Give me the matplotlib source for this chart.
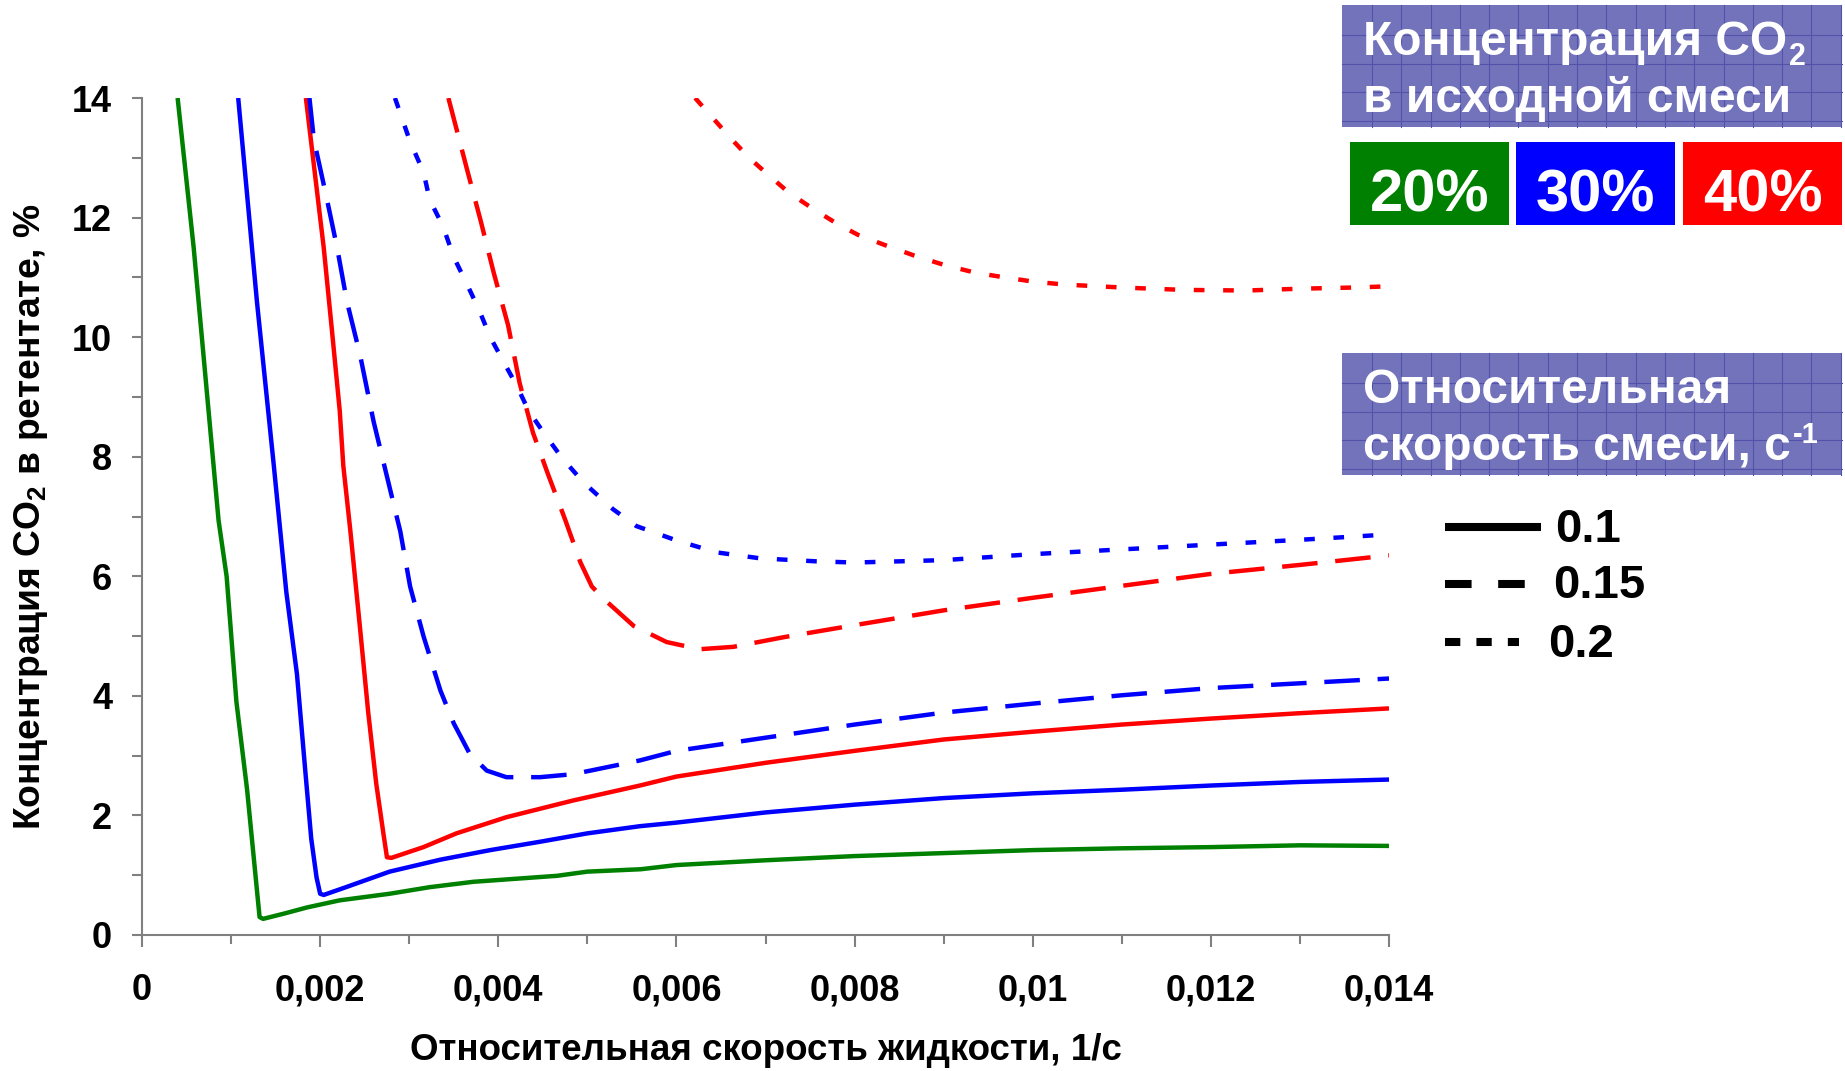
import numpy as np
import matplotlib
matplotlib.use("Agg")
import matplotlib.pyplot as plt
from matplotlib.patches import Rectangle
from matplotlib.lines import Line2D

plt.rcParams['font.family'] = ['Liberation Sans', 'DejaVu Sans']
plt.rcParams['font.weight'] = 'bold'
plt.rcParams['mathtext.fontset'] = 'custom'
plt.rcParams['mathtext.rm'] = 'Liberation Sans:bold'
plt.rcParams['mathtext.bf'] = 'Liberation Sans:bold'
plt.rcParams['mathtext.it'] = 'Liberation Sans:bold'
plt.rcParams['mathtext.default'] = 'rm'

# ---------------- data ----------------
# 20% CO2, gas rate 0.1
x_20_01 = [0.00040, 0.00058, 0.00073, 0.00086, 0.00095, 0.00106, 0.00118, 0.00127, 0.00132,
           0.00136, 0.00160, 0.00185, 0.00222, 0.00278, 0.00323, 0.00372, 0.00466, 0.0050,
           0.0056, 0.0060, 0.0070, 0.0080, 0.0090, 0.0100, 0.0110, 0.0120, 0.0130, 0.0140]
y_20_01 = [14.0, 11.5, 9.05, 6.93, 6.0, 3.9, 2.43, 1.06, 0.30,
           0.27, 0.36, 0.46, 0.58, 0.69, 0.80, 0.89, 0.99, 1.06,
           1.10, 1.17, 1.25, 1.32, 1.37, 1.42, 1.45, 1.47, 1.50, 1.49]

# 30% CO2, gas rate 0.1
x_30_01 = [0.00108, 0.00129, 0.00148, 0.00162, 0.00174, 0.00183, 0.00190, 0.00196, 0.00200,
           0.00204, 0.00229, 0.00278, 0.00335, 0.00391, 0.00447, 0.0050, 0.00559, 0.0060,
           0.0070, 0.0080, 0.0090, 0.0100, 0.0110, 0.0120, 0.0130, 0.0140]
y_30_01 = [14.0, 10.6, 7.85, 5.74, 4.36, 2.8, 1.61, 0.96, 0.69,
           0.67, 0.80, 1.06, 1.26, 1.42, 1.56, 1.70, 1.82, 1.88,
           2.05, 2.18, 2.29, 2.37, 2.43, 2.50, 2.56, 2.60]

# 40% CO2, gas rate 0.1
x_40_01 = [0.00184, 0.00204, 0.00213, 0.00222, 0.00226, 0.00234, 0.00245, 0.00254, 0.00263,
           0.00271, 0.00275, 0.00280, 0.00316, 0.00353, 0.00409, 0.00484, 0.00559, 0.0060,
           0.0070, 0.0080, 0.0090, 0.0100, 0.0110, 0.0120, 0.0130, 0.0140]
y_40_01 = [14.0, 11.5, 10.15, 8.77, 7.85, 6.75, 5.1, 3.72, 2.53,
           1.7, 1.30, 1.29, 1.47, 1.70, 1.97, 2.25, 2.50, 2.65,
           2.88, 3.08, 3.27, 3.40, 3.52, 3.62, 3.71, 3.79]

# 30% CO2, gas rate 0.15
x_30_015 = [0.00188, 0.00193, 0.00207, 0.00219, 0.00230, 0.00245, 0.00260, 0.00275, 0.00290,
            0.00301, 0.00316, 0.00335, 0.00350, 0.00368, 0.00387, 0.00409, 0.00447, 0.00484,
            0.00559, 0.0060, 0.0070, 0.0080, 0.0090, 0.0100, 0.0110, 0.0120, 0.0130, 0.0140]
y_30_015 = [14.0, 13.3, 12.35, 11.5, 10.6, 9.69, 8.59, 7.67, 6.75,
            5.83, 5.0, 4.09, 3.54, 3.03, 2.75, 2.64, 2.64, 2.69,
            2.92, 3.08, 3.30, 3.52, 3.72, 3.87, 4.01, 4.13, 4.21, 4.29]

# 40% CO2, gas rate 0.15
x_40_015 = [0.00344, 0.00365, 0.00380, 0.00395, 0.00411, 0.00424, 0.00439, 0.00456, 0.00475,
            0.00492, 0.00505, 0.00520, 0.00552, 0.00589, 0.00626, 0.00664, 0.0072, 0.00795,
            0.0090, 0.0100, 0.0110, 0.0120, 0.0130, 0.0140]
y_40_015 = [14.0, 12.8, 11.96, 11.07, 10.2, 9.23, 8.4, 7.7, 6.95,
            6.24, 5.83, 5.6, 5.17, 4.9, 4.78, 4.82, 4.98, 5.17,
            5.43, 5.64, 5.84, 6.04, 6.19, 6.35]

# 30% CO2, gas rate 0.2
x_30_02 = [0.00284, 0.00301, 0.00316, 0.00323, 0.00338, 0.00350, 0.00365, 0.00378, 0.00391,
           0.00404, 0.00421, 0.00434, 0.00451, 0.00471, 0.00495, 0.00529, 0.00555, 0.00600,
           0.00645, 0.00694, 0.00757, 0.0080, 0.0090, 0.0100, 0.0110, 0.0120, 0.0130, 0.0140]
y_30_02 = [14.0, 13.27, 12.76, 12.3, 11.85, 11.34, 10.88, 10.47, 10.0,
           9.64, 9.18, 8.77, 8.4, 7.99, 7.58, 7.12, 6.84, 6.6,
           6.4, 6.3, 6.25, 6.23, 6.27, 6.37, 6.45, 6.53, 6.61, 6.70]

# 40% CO2, gas rate 0.2
x_40_02 = [0.00621, 0.0064, 0.00662, 0.00683, 0.00705, 0.00726, 0.00753, 0.0078, 0.00804,
           0.00834, 0.00866, 0.0090, 0.00935, 0.00968, 0.0100, 0.01035, 0.0110, 0.0117,
           0.0124, 0.0130, 0.0136, 0.0140]
y_40_02 = [14.0, 13.68, 13.31, 12.98, 12.69, 12.42, 12.15, 11.9, 11.71,
           11.54, 11.37, 11.21, 11.08, 11.0, 10.93, 10.88, 10.83, 10.79,
           10.78, 10.81, 10.83, 10.85]

x_ticks = [0, 0.002, 0.004, 0.006, 0.008, 0.010, 0.012, 0.014]
x_tick_labels = ['0', '0,002', '0,004', '0,006', '0,008', '0,01', '0,012', '0,014']
y_ticks = [0, 2, 4, 6, 8, 10, 12, 14]
y_tick_labels = ['0', '2', '4', '6', '8', '10', '12', '14']

conc_labels = ['20%', '30%', '40%']
rate_labels = ['0.1', '0.15', '0.2']

GREEN, BLUE, RED = '#008000', '#0000FF', '#FF0000'
LW = 3.2
DASH = (0, (8, 4))
DOT = (0, (2.4, 4.2))

# ---------------- figure ----------------
W, H = 1845, 1071
fig = plt.figure(figsize=(W / 100, H / 100), dpi=100)
ax_l, ax_r, ax_t, ax_b = 142, 1389, 98, 935
ax = fig.add_axes([ax_l / W, 1 - ax_b / H, (ax_r - ax_l) / W, (ax_b - ax_t) / H])

curves = [
    (x_20_01, y_20_01, GREEN, '-'),
    (x_30_01, y_30_01, BLUE, '-'),
    (x_40_01, y_40_01, RED, '-'),
    (x_30_015, y_30_015, BLUE, DASH),
    (x_40_015, y_40_015, RED, DASH),
    (x_30_02, y_30_02, BLUE, DOT),
    (x_40_02, y_40_02, RED, DOT),
]
for xs, ys, c, ls in curves:
    ax.plot(xs, ys, color=c, lw=LW, linestyle=ls, solid_capstyle='butt',
            dash_capstyle='butt', solid_joinstyle='round', dash_joinstyle='round')

ax.set_xlim(0, 0.014)
ax.set_ylim(0, 14)
for s in ('top', 'right'):
    ax.spines[s].set_visible(False)
for s in ('left', 'bottom'):
    ax.spines[s].set_color('#808080')
    ax.spines[s].set_linewidth(1.5)

ax.set_xticks(x_ticks)
ax.set_xticklabels(x_tick_labels)
ax.set_xticks(np.arange(0.001, 0.014, 0.002), minor=True)
ax.set_yticks(y_ticks)
ax.set_yticklabels(y_tick_labels)
ax.set_yticks(np.arange(1, 14, 2), minor=True)

ax.tick_params(axis='x', which='major', direction='out', length=8.5, width=1.5,
               color='#808080', labelsize=26, pad=19)
ax.tick_params(axis='x', which='minor', direction='out', length=6.5, width=1.5,
               color='#808080')
ax.tick_params(axis='y', which='major', direction='out', length=7.5, width=1.5,
               color='#808080', labelsize=26, pad=14)
ax.tick_params(axis='y', which='minor', direction='out', length=7, width=1.5,
               color='#808080')
for lab in ax.get_xticklabels() + ax.get_yticklabels():
    lab.set_fontweight('bold')

ax.set_xlabel('Относительная скорость жидкости, 1/с', fontsize=26.5, fontweight='bold')
ax.xaxis.set_label_coords(0.5, -(1033 - ax_b) / (ax_b - ax_t))
ax.xaxis.label.set_va('top')
ax.set_ylabel('Концентрация CO$_2$ в ретентате, %', fontsize=26.8, fontweight='bold')
ax.yaxis.set_label_coords(-(ax_l - 50) / (ax_r - ax_l), 0.5)

# ---------------- overlay (pixel coordinates) ----------------
ov = fig.add_axes([0, 0, 1, 1])
ov.set_xlim(0, W)
ov.set_ylim(H, 0)
ov.axis('off')
ov.patch.set_alpha(0)

PANEL = '#7373BC'
GRIDC = '#5252AA'


def panel(x0, y0, w, h):
    ov.add_patch(Rectangle((x0, y0), w, h, facecolor=PANEL, edgecolor='none', zorder=1))
    gx = np.arange(x0 + 30, x0 + w, 29.3)
    gy = np.arange(y0 + 30, y0 + h, 28.7)
    for g in gx:
        ov.add_line(Line2D([g, g], [y0, y0 + h], color=GRIDC, lw=0.8, zorder=2))
    for g in gy:
        ov.add_line(Line2D([x0, x0 + w], [g, g], color=GRIDC, lw=0.8, zorder=2))


PFS = 34.5
panel(1342, 5, 500, 122)
t1 = ov.text(1363, 55, 'Концентрация CO', fontsize=PFS, color='white',
             fontweight='bold', va='baseline', ha='left', zorder=3)
ov.text(1363, 112, 'в исходной смеси', fontsize=PFS, color='white',
        fontweight='bold', va='baseline', ha='left', zorder=3)

box_x = [1350, 1516, 1683]
for bx, c, lab in zip(box_x, [GREEN, BLUE, RED], conc_labels):
    ov.add_patch(Rectangle((bx, 142), 159, 83, facecolor=c, edgecolor='none', zorder=1))
    ov.text(bx + 79.5, 212, lab, fontsize=43, color='white', fontweight='bold',
            ha='center', va='baseline', zorder=3)

panel(1342, 353, 500, 122)
ov.text(1363, 403, 'Относительная', fontsize=PFS, color='white',
        fontweight='bold', va='baseline', ha='left', zorder=3)
t2 = ov.text(1363, 460, 'скорость смеси, с', fontsize=PFS, color='white',
             fontweight='bold', va='baseline', ha='left', zorder=3)

# place subscript / superscript right after measured text
fig.canvas.draw()
r = fig.canvas.get_renderer()
e1 = t1.get_window_extent(r)
ov.text(e1.x1 + 2, 65, '2', fontsize=22, color='white',
        fontweight='bold', va='baseline', ha='left', zorder=3)
e2 = t2.get_window_extent(r)
ov.text(e2.x1 + 2, 443, '-1', fontsize=21, color='white',
        fontweight='bold', va='baseline', ha='left', zorder=3)

leg_styles = ['-', (0, (3.3, 3.3)), (0, (1.9, 2.0))]
leg_y = [527, 584, 642]
leg_x1 = [1541, 1525, 1519]
leg_tx = [1555, 1553, 1548]
leg_base = [542, 598, 657]
for ls, ly, lx1, tx, tb, lab in zip(leg_styles, leg_y, leg_x1, leg_tx, leg_base, rate_labels):
    ov.add_line(Line2D([1445, lx1], [ly, ly], color='black', lw=5.8, linestyle=ls,
                       dash_capstyle='butt', solid_capstyle='butt'))
    ov.text(tx, tb, lab, fontsize=34, color='black', fontweight='bold',
            ha='left', va='baseline')

fig.savefig('out.png', dpi=100)
